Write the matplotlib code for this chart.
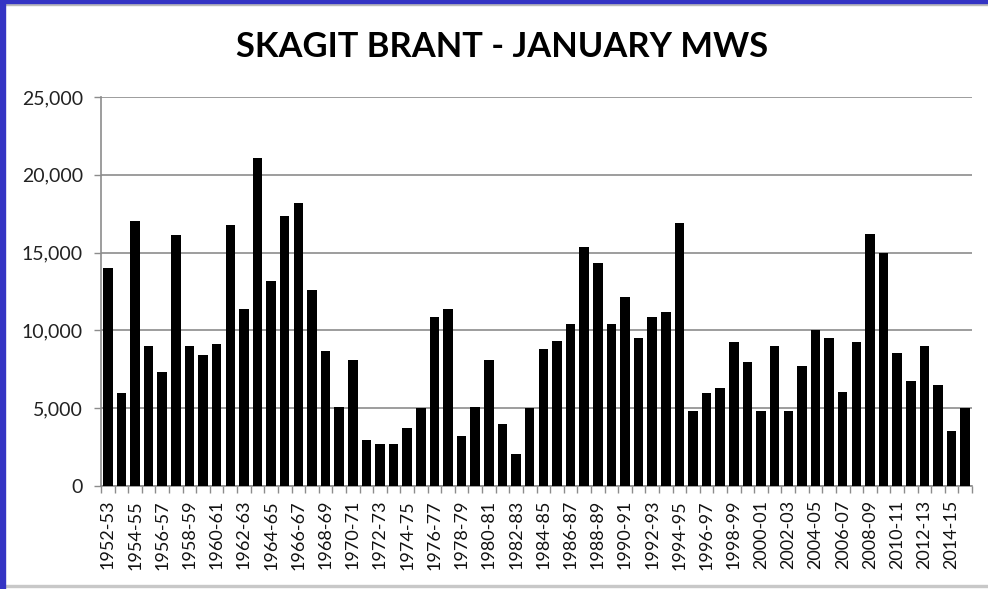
import numpy as np
import matplotlib.pyplot as plt
from matplotlib.patches import Rectangle
from matplotlib.ticker import FuncFormatter

# winter seasons 1952-53 .. 2015-16
start_years = list(range(1952, 2016))
seasons = ["%d-%02d" % (y, (y + 1) % 100) for y in start_years]

counts = [
    14000, 6000, 17000, 9000, 7350, 16100, 9000, 8450, 9100, 16750,
    11400, 21050, 13150, 17350, 18200, 12600, 8650, 5100, 8100, 2950,
    2700, 2700, 3750, 5000, 10850, 11380, 3200, 5100, 8100, 4000,
    2080, 5000, 8830, 9300, 10430, 15360, 14300, 10430, 12170, 9490,
    10860, 11200, 16900, 4840, 5980, 6320, 9230, 7950, 4840, 8980,
    4840, 7690, 10000, 9490, 6060, 9230, 16220, 15000, 8550, 6750,
    8980, 6490, 3560, 5010,
]

plt.rcParams['font.family'] = ['Lato', 'DejaVu Sans']

fig = plt.figure(figsize=(9.88, 5.89), dpi=100)
ax = fig.add_axes([101 / 988, 103 / 589, 871 / 988, 389 / 589])

x = np.arange(len(seasons))
ax.bar(x, counts, width=0.7, color='black', zorder=3)

ax.set_xlim(-0.5, len(seasons) - 0.5)
ax.set_ylim(0, 25000)
ax.set_yticks(range(0, 25001, 5000))
ax.yaxis.set_major_formatter(FuncFormatter(lambda v, p: f"{int(v):,}"))
ax.yaxis.grid(True, color='#8c8c8c', linewidth=1.2, zorder=0)

ax.set_xticks(x[::2])
ax.set_xticklabels(seasons[::2], rotation=90)
ax.set_xticks(np.arange(-0.5, len(seasons)), minor=True)
ax.tick_params(axis='x', which='major', length=0, pad=10, labelsize=13, colors='#111111')
ax.tick_params(axis='x', which='minor', length=5, color='#8c8c8c', width=1)
ax.tick_params(axis='y', length=5, color='#8c8c8c', width=1, pad=8,
               labelsize=14, labelcolor='#222222')

for s in ['top', 'right']:
    ax.spines[s].set_visible(False)
for s in ['left', 'bottom']:
    ax.spines[s].set_color('#8c8c8c')
    ax.spines[s].set_linewidth(1.2)

fig.text(0.508, 1 - 47 / 589, "SKAGIT BRANT - JANUARY MWS", ha='center', va='center',
         fontsize=24.8, fontweight='bold', color='black')

# slide frame
fig.patches.append(Rectangle((0, 0), 5 / 988, 1, transform=fig.transFigure,
                             color='#3434c4', zorder=10))
fig.patches.append(Rectangle((0, 1 - 3 / 589), 1, 3 / 589, transform=fig.transFigure,
                             color='#3434c4', zorder=10))
fig.patches.append(Rectangle((5 / 988, 1 - 5 / 589), 1, 2 / 589, transform=fig.transFigure,
                             color='#bbbbbb', zorder=9))
fig.patches.append(Rectangle((5 / 988, 2 / 589), 1, 2 / 589, transform=fig.transFigure,
                             color='#c8c8c8', zorder=9))

fig.savefig("out.png", dpi=100)
